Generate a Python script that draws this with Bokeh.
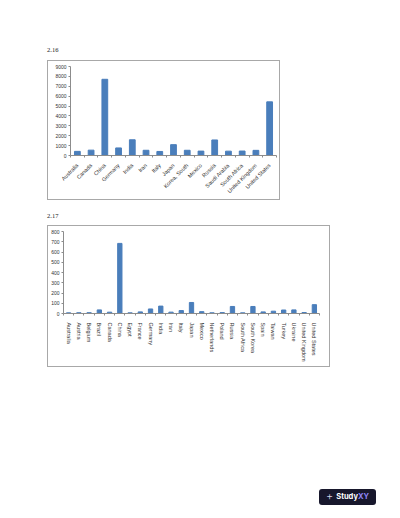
from bokeh.plotting import figure
from bokeh.models import Range1d, FixedTicker, Div, Spacer
from bokeh.layouts import column, row
from bokeh.embed import file_html
from bokeh.resources import INLINE

# 2.16 - emissions by country
co2_countries = ["Australia", "Canada", "China", "Germany", "India", "Iran", "Italy",
                 "Japan", "Korea, South", "Mexico", "Russia", "Saudi Arabia",
                 "South Africa", "United Kingdom", "United States"]
co2_values = [418, 541, 7707, 766, 1591, 528, 408, 1098, 528, 444, 1572, 438, 451, 520, 5425]
co2_ticks = [0, 1000, 2000, 3000, 4000, 5000, 6000, 7000, 8000, 9000]

# 2.17 - steel production by country
steel_countries = ["Australia", "Austria", "Belgium", "Brazil", "Canada", "China", "Egypt",
                   "France", "Germany", "India", "Iran", "Italy", "Japan", "Mexico",
                   "Netherlands", "Poland", "Russia", "South Africa", "South Korea", "Spain",
                   "Taiwan", "Turkey", "Ukraine", "United Kingdom", "United States"]
steel_values = [6.4, 7.5, 8.0, 35.2, 12.9, 683.9, 6.5, 15.8, 44.3, 72.2, 13.2, 28.7, 107.6,
                18.1, 6.9, 8.8, 68.7, 6.7, 68.5, 15.6, 22.7, 34.1, 35.3, 9.5, 86.4]
steel_ticks = [0, 100, 200, 300, 400, 500, 600, 700, 800]

BAR = "#4a7ebb"
AXIS = "#8c8c8c"
BOX = "#a8a8a8"
FONT = "Liberation Sans"


def bar_chart(names, vals, yticks, w, h, borders, angle):
    n = len(names)
    centers = [i + 0.5 for i in range(n)]
    left, right, top, bottom = borders
    p = figure(width=w, height=h, x_range=Range1d(0, n),
               y_range=Range1d(yticks[0], yticks[-1]),
               output_backend="svg", toolbar_location=None, tools="",
               min_border_left=left, min_border_right=right,
               min_border_top=top, min_border_bottom=bottom)
    p.vbar(x=centers, top=vals, width=0.42, color=BAR)
    p.xgrid.visible = False
    p.ygrid.visible = False
    p.outline_line_color = None

    ya = p.yaxis[0]
    ya.ticker = FixedTicker(ticks=yticks)
    ya.axis_line_color = AXIS
    ya.major_tick_line_color = AXIS
    ya.major_tick_out = 2
    ya.major_tick_in = 0
    ya.minor_tick_line_color = None
    ya.major_label_standoff = 2
    ya.major_label_text_font = FONT
    ya.major_label_text_font_size = "5px"
    ya.major_label_text_color = "#333333"

    xa = p.xaxis[0]
    xa.ticker = FixedTicker(ticks=centers, minor_ticks=list(range(n + 1)))
    xa.major_label_overrides = {c: name for c, name in zip(centers, names)}
    xa.axis_line_color = AXIS
    xa.major_tick_line_color = None
    xa.minor_tick_line_color = AXIS
    xa.minor_tick_out = 2
    xa.minor_tick_in = 0
    xa.major_label_orientation = angle
    xa.major_label_standoff = 3
    xa.major_label_text_font = FONT
    xa.major_label_text_font_size = "5.5px"
    xa.major_label_text_color = "#333333"
    return p


def boxed(p, w, h):
    edge = {"background-color": BOX}
    side = lambda: Div(text="", width=1, height=h, styles=edge, margin=0)
    line = lambda: Div(text="", width=w - 2, height=1, styles=edge, margin=0)
    return row(side(), column(line(), p, line(), spacing=0), side(), spacing=0)


def caption(txt):
    return Div(text=txt, width=40, height=8, margin=0,
               styles={"font-family": "Liberation Serif", "font-size": "6.5px",
                       "color": "#222222", "line-height": "8px"})


p1 = bar_chart(co2_countries, co2_values, co2_ticks, 231, 138, (22, 3, 5, 44), 0.785398)
p2 = bar_chart(steel_countries, steel_values, steel_ticks, 281, 140, (15, 10, 5, 53), "vertical")

badge = Div(width=57, height=16, margin=0, text=(
    '<div style="width:57px;height:16px;background:#17172c;border-radius:3px;'
    'display:flex;align-items:center;justify-content:center;font-family:Inter;'
    'font-weight:700;font-size:7.5px;color:#ffffff;">'
    '<span style="font-weight:300;font-size:11px;margin-right:3px;color:#d8d8e8;">+</span>'
    'Study<span style="color:#8f85f7;">XY</span></div>'))

layout = column(
    Spacer(height=46, width=10),
    row(Spacer(width=47, height=8), caption("2.16")),
    Spacer(height=6, width=10),
    row(Spacer(width=47, height=140), boxed(p1, 233, 140)),
    Spacer(height=12, width=10),
    row(Spacer(width=47, height=8), caption("2.17")),
    Spacer(height=5, width=10),
    row(Spacer(width=47, height=142), boxed(p2, 283, 142)),
    Spacer(height=121, width=10),
    row(Spacer(width=319, height=16), badge),
    spacing=0,
)

open("out.html", "w").write(file_html(layout, INLINE))
